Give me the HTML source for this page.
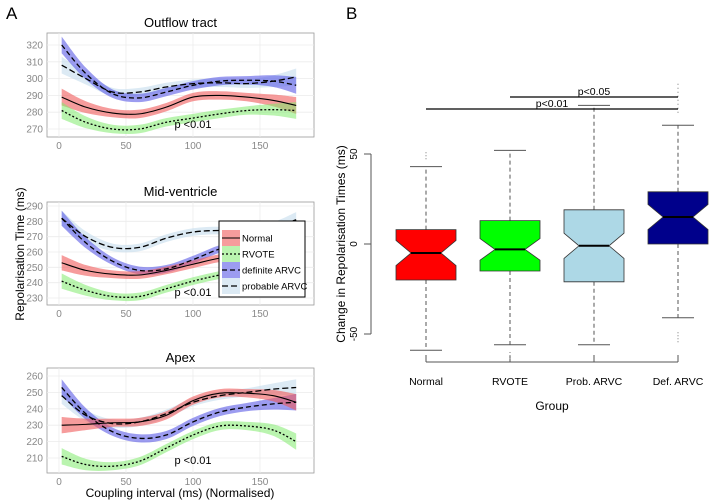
<!DOCTYPE html>
<html><head><meta charset="utf-8">
<style>
body{margin:0;background:#fff;}
svg{display:block;font-family:"Liberation Sans",sans-serif;}
</style></head>
<body>
<svg id="fig" width="714" height="503" viewBox="0 0 714 503" xmlns="http://www.w3.org/2000/svg">
<text x="6" y="19" font-size="17">A</text>
<text x="346" y="19" font-size="17">B</text>
<g id="left"></g>
<g id="right"></g>
</svg>
<script>
// ---------- Panel A data ----------
const xSamples = [2, 20, 40, 60, 80, 100, 120, 140, 160, 177];
const outNormal = [289, 283, 279.5, 279, 283, 289, 290, 289, 287, 284];
const outRvote = [281, 274, 270, 270, 274, 276.5, 279, 281, 281.5, 281];
const outDef = [320, 303, 291, 288.5, 292, 296, 298.5, 299, 298.5, 296];
const outProb = [308, 300, 292, 292, 295, 297, 297.5, 297, 298.5, 301];
const midNormal = [253, 248, 245.5, 245, 248, 252, 256, 257.5, 258, 257];
const midRvote = [241, 235, 231, 231, 236, 241, 245, 248, 250, 251];
const midDef = [282, 266, 254, 248, 249, 255, 262, 266, 270, 274];
const midProb = [282, 270, 263, 263, 269, 273, 274, 273, 276, 281];
const apxNormal = [230, 230.5, 231.5, 232, 236, 245, 249.5, 249.5, 248, 244];
const apxRvote = [211, 206, 205, 208, 216, 224, 229.5, 229.5, 227, 220];
const apxDef = [253, 237, 226, 222, 224, 232, 238, 241, 243, 244];
const apxProb = [248, 236, 231, 232, 237, 244, 248, 250, 252, 253];
const bandHalf = [5, 3.5, 2.5, 2.5, 2.5, 2.5, 2.5, 2.5, 3.5, 5];
const xTicks = [0, 50, 100, 150];
const outTicks = [270, 280, 290, 300, 310, 320];
const midTicks = [230, 240, 250, 260, 270, 280, 290];
const apxTicks = [210, 220, 230, 240, 250, 260];

// ---------- Panel B data ----------
const groups = ["Normal", "RVOTE", "Prob. ARVC", "Def. ARVC"];
const q1 = [-20, -15, -21, 0];
const medians = [-5, -3, -1, 15];
const q3 = [8, 13, 19, 29];
const whiskLow = [-59, -56, -56, -41];
const whiskHigh = [43, 52, 77, 66];
const notchHalf = [7, 6, 7, 7];
const yTicksB = [-50, 0, 50];

const NS = "http://www.w3.org/2000/svg";
function mk(tag, attrs, parent, txt){
  const e = document.createElementNS(NS, tag);
  for (const k in attrs) e.setAttribute(k, attrs[k]);
  if (txt !== undefined) e.textContent = txt;
  parent.appendChild(e);
  return e;
}
function smooth(pts){
  let d = "M" + pts[0][0] + "," + pts[0][1];
  for (let i = 0; i < pts.length - 1; i++){
    const p0 = pts[Math.max(0, i-1)], p1 = pts[i], p2 = pts[i+1], p3 = pts[Math.min(pts.length-1, i+2)];
    const c1 = [p1[0] + (p2[0]-p0[0])/6, p1[1] + (p2[1]-p0[1])/6];
    const c2 = [p2[0] - (p3[0]-p1[0])/6, p2[1] - (p3[1]-p1[1])/6];
    d += " C" + c1[0] + "," + c1[1] + " " + c2[0] + "," + c2[1] + " " + p2[0] + "," + p2[1];
  }
  return d;
}
function smoothRev(pts){ return smooth(pts.slice().reverse()).replace(/^M/, " L"); }

const left = document.getElementById("left");
const px0 = 47, px1 = 314;
function sx(v){ return 59 + (v - 0) * (260 - 59) / 150; }

const panels = [
  {title:"Outflow tract", top:33, bot:137, yA:320, pA:45, yB:270, pB:129, ticks:outTicks, series:[outProb, outDef, outNormal, outRvote], name:"outflow"},
  {title:"Mid-ventricle", top:202, bot:305, yA:290, pA:206, yB:230, pB:298, ticks:midTicks, series:[midProb, midDef, midNormal, midRvote], name:"mid-ventricle"},
  {title:"Apex", top:368, bot:473, yA:260, pA:376, yB:210, pB:458, ticks:apxTicks, series:[apxProb, apxDef, apxNormal, apxRvote], name:"apex"}
];
const styles = [
  {fill:"rgba(196,220,236,0.6)", dash:"6,3", w:1.3, n:"probable-arvc"},
  {fill:"rgba(90,90,230,0.6)", dash:"5,3", w:1.3, n:"definite-arvc"},
  {fill:"rgba(240,90,90,0.6)", dash:"", w:1.1, n:"normal"},
  {fill:"rgba(130,235,110,0.55)", dash:"2,2", w:1.3, n:"rvote"}
];

panels.forEach(P => {
  const g = mk("g", {}, left);
  
  
  const sy = v => P.pB + (v - P.yB) * (P.pA - P.pB) / (P.yA - P.yB);
  mk("rect", {x:px0, y:P.top, width:px1-px0, height:P.bot-P.top, fill:"#fff", stroke:"#999", "stroke-width":0.8}, g);
  P.ticks.forEach(t => {
    mk("line", {x1:px0, x2:px1, y1:sy(t), y2:sy(t), stroke:"#ececec", "stroke-width":0.8}, g);
    const lb = mk("text", {x:px0-4, y:sy(t)+3.5, "font-size":10, fill:"#888", "text-anchor":"end"}, g, t);
    
    
  });
  xTicks.forEach(t => {
    mk("line", {x1:sx(t), x2:sx(t), y1:P.top, y2:P.bot, stroke:"#ececec", "stroke-width":0.8}, g);
    const lb = mk("text", {x:sx(t), y:P.bot+12, "font-size":10, fill:"#888", "text-anchor":"middle"}, g, t);
    
    
  });
  const tt = mk("text", {x:(px0+px1)/2, y:P.top-6, "font-size":13, "text-anchor":"middle"}, g, P.title);
  
  
  P.series.forEach((s, i) => {
    const st = styles[i];
    const up = xSamples.map((x, k) => [sx(x), sy(s[k] + bandHalf[k])]);
    const dn = xSamples.map((x, k) => [sx(x), sy(s[k] - bandHalf[k])]);
    const band = mk("path", {d: smooth(up) + smoothRev(dn) + " Z", fill: st.fill, stroke:"none"}, g);
    
    
  });
  P.series.forEach((s, i) => {
    const st = styles[i];
    const pts = xSamples.map((x, k) => [sx(x), sy(s[k])]);
    const ln = mk("path", {d: smooth(pts), fill:"none", stroke:"#000", "stroke-width":st.w, "stroke-dasharray":st.dash}, g);
    
    
  });
  const pv = mk("text", {x:193, y:P.bot-9, "font-size":11, "text-anchor":"middle"}, g, "p <0.01");
  
  
});
let t1 = mk("text", {x:180, y:497, "font-size":12, "text-anchor":"middle"}, left, "Coupling interval (ms) (Normalised)");


let t2 = mk("text", {x:0, y:0, "font-size":12, "text-anchor":"middle", transform:"translate(24,254) rotate(-90)"}, left, "Repolarisation Time (ms)");



const lg = mk("g", {}, left);


mk("rect", {x:219, y:221, width:86, height:76, fill:"#fff", stroke:"#000", "stroke-width":1}, lg);
const legOrder = [2, 3, 1, 0];
const legLabels = ["Normal", "RVOTE", "definite ARVC", "probable ARVC"];
legOrder.forEach((si, i) => {
  const st = styles[si];
  const y = 238 + i * 16;
  const e = mk("g", {}, lg);
  
  
  mk("rect", {x:222, y:y-8, width:18, height:16, fill:st.fill}, e);
  mk("line", {x1:222, x2:240, y1:y, y2:y, stroke:"#000", "stroke-width":st.w, "stroke-dasharray":st.dash}, e);
  mk("text", {x:242, y:y+3.5, "font-size":9.5}, e, legLabels[i]);
});

// ---------- Panel B ----------
const right = document.getElementById("right");
function by(v){ return 244 - v * 1.8; }
const cx0 = 426, cstep = 84, hw = 30;
const colors = ["#ff0000", "#00ff00", "#add8e6", "#00008b"];
mk("line", {x1:371, x2:371, y1:by(50), y2:by(-50), stroke:"#555", "stroke-width":1}, right);
yTicksB.forEach(t => {
  mk("line", {x1:364, x2:371, y1:by(t), y2:by(t), stroke:"#555"}, right);
  const lb = mk("text", {x:0, y:0, "font-size":10, "text-anchor":"middle", transform:"translate(357," + by(t) + ") rotate(-90)"}, right, t);
  
  
});
let t3 = mk("text", {x:0, y:0, "font-size":12, "text-anchor":"middle", transform:"translate(345,244) rotate(-90)"}, right, "Change in Repolarisation Times (ms)");


mk("line", {x1:cx0, x2:cx0+3*cstep, y1:362, y2:362, stroke:"#555"}, right);
groups.forEach((gname, i) => {
  const cx = cx0 + i * cstep;
  mk("line", {x1:cx, x2:cx, y1:362, y2:355, stroke:"#555"}, right);
  const lb = mk("text", {x:cx, y:385, "font-size":10.5, "text-anchor":"middle"}, right, gname);
  
  
  const g = mk("g", {}, right);
  
  
  mk("line", {x1:cx, x2:cx, y1:by(q3[i]), y2:by(whiskHigh[i]), stroke:"#555", "stroke-dasharray":"4,3"}, g);
  mk("line", {x1:cx, x2:cx, y1:by(q1[i]), y2:by(whiskLow[i]), stroke:"#555", "stroke-dasharray":"4,3"}, g);
  mk("line", {x1:cx-16, x2:cx+16, y1:by(whiskHigh[i]), y2:by(whiskHigh[i]), stroke:"#555"}, g);
  mk("line", {x1:cx-16, x2:cx+16, y1:by(whiskLow[i]), y2:by(whiskLow[i]), stroke:"#555"}, g);
  const m = medians[i], n = notchHalf[i], nw = hw * 0.5;
  const pts = [[cx-hw, by(q3[i])], [cx+hw, by(q3[i])], [cx+hw, by(m+n)], [cx+nw, by(m)], [cx+hw, by(m-n)], [cx+hw, by(q1[i])], [cx-hw, by(q1[i])], [cx-hw, by(m-n)], [cx-nw, by(m)], [cx-hw, by(m+n)]];
  mk("polygon", {points: pts.map(p => p.join(",")).join(" "), fill:colors[i], stroke:"#333", "stroke-width":0.8}, g);
  mk("line", {x1:cx-nw, x2:cx+nw, y1:by(m), y2:by(m), stroke:"#000", "stroke-width":2}, g);
});
mk("line", {x1:678, x2:678, y1:by(89), y2:by(72), stroke:"#777", "stroke-dasharray":"1,3"}, right);
mk("line", {x1:678, x2:678, y1:by(-49), y2:by(-55), stroke:"#777", "stroke-dasharray":"1,2"}, right);
mk("line", {x1:426, x2:426, y1:by(51), y2:by(46), stroke:"#777", "stroke-dasharray":"1,2"}, right);
mk("line", {x1:510, x2:510, y1:by(-60), y2:by(-64), stroke:"#777", "stroke-dasharray":"1,2"}, right);
mk("line", {x1:510, x2:678, y1:97, y2:97, stroke:"#000", "stroke-width":1.3}, right);
mk("line", {x1:426, x2:678, y1:109, y2:109, stroke:"#000", "stroke-width":1.3}, right);
let s1 = mk("text", {x:594, y:95, "font-size":10.5, "text-anchor":"middle"}, right, "p<0.05");


let s2 = mk("text", {x:552, y:107, "font-size":10.5, "text-anchor":"middle"}, right, "p<0.01");


let t4 = mk("text", {x:552, y:410, "font-size":12, "text-anchor":"middle"}, right, "Group");


</script>
</body></html>
